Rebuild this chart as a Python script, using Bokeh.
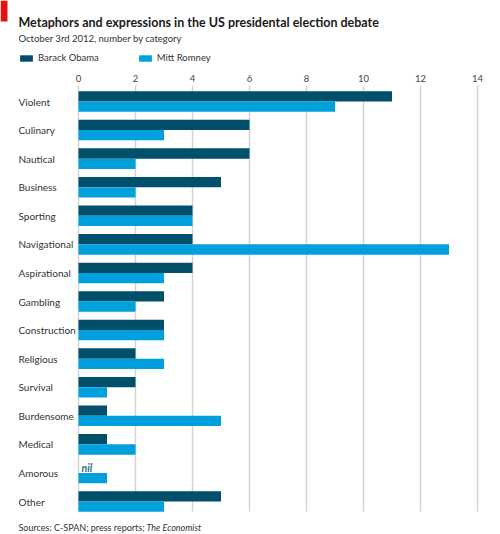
from bokeh.plotting import figure
from bokeh.models import (ColumnDataSource, Range1d, Label, Legend, LegendItem, BoxAnnotation)
from bokeh.transform import dodge
from bokeh.embed import file_html
from bokeh.resources import INLINE
from bokeh.core.properties import value

# Metáforas usadas no debate presidencial (EUA, 3/10/2012)

categories = ["Violent", "Culinary", "Nautical", "Business", "Sporting", "Navigational",
              "Aspirational", "Gambling", "Construction", "Religious", "Survival",
              "Burdensome", "Medical", "Amorous", "Other"]
obama = [11, 6, 6, 5, 4, 4, 4, 3, 3, 2, 2, 1, 1, 0, 5]
romney = [9, 3, 2, 2, 4, 13, 3, 2, 3, 3, 1, 5, 2, 1, 3]
x_ticks = [0, 2, 4, 6, 8, 10, 12, 14]

OBAMA = "#004f6b"
ROMNEY = "#00a0dc"
FONT = "Lato"
TXT = "#333333"

W, H = 500, 534
# geometria em pixels: x=0 em 78px, x=14 em 477px; 1a categoria em 101px, ultima em 501px
X0, XPX = 78, 399 / 14
Y0, YPX = 101, 400 / 14
TOP, BOTTOM = -0.56, len(categories) - 1 + 0.35   # faixa das barras/grade

source = ColumnDataSource(dict(cat=categories, pos=list(range(len(categories))),
                               obama=obama, romney=romney))

p = figure(width=W, height=H, output_backend="svg", toolbar_location=None,
           x_range=Range1d(-X0 / XPX, (W - X0) / XPX),
           y_range=Range1d((H - Y0) / YPX, -Y0 / YPX),
           x_axis_location=None, y_axis_location=None,
           min_border=0)
p.outline_line_color = None
p.grid.visible = False

# grade vertical
p.segment(x0=x_ticks, x1=x_ticks, y0=[TOP] * len(x_ticks), y1=[BOTTOM] * len(x_ticks),
          line_color="#d4d4d4", line_width=1.5, level="underlay")

# rótulos do eixo (em cima)
p.text(x=x_ticks, y=[TOP] * len(x_ticks), text=[str(t) for t in x_ticks], y_offset=-4,
       text_font=value(FONT), text_font_size="9.5px", text_color="#444444",
       text_align="center", text_baseline="bottom")

r_ob = p.hbar(y=dodge("pos", -0.18), right="obama", left=0, height=0.36,
              source=source, fill_color=OBAMA, line_color=None)
r_ro = p.hbar(y=dodge("pos", 0.18), right="romney", left=0, height=0.36,
              source=source, fill_color=ROMNEY, line_color=None)

# "nil" onde Obama tem zero
nil_src = ColumnDataSource(dict(
    pos=[i for i, v in enumerate(obama) if v == 0],
    x=[0 for v in obama if v == 0],
    t=["nil" for v in obama if v == 0]))
p.text(x="x", y=dodge("pos", -0.18), text="t", source=nil_src, x_offset=3,
       text_font=value(FONT), text_font_size="10.5px", text_font_style="bold italic",
       text_color="#2a6f8a", text_baseline="middle")

# rótulos das categorias
p.text(x=0, y="pos", text="cat", source=source, x_offset=-60,
       text_font=value(FONT), text_font_size="10px", text_color=TXT,
       text_baseline="middle", text_align="left")


def lab(text, fx, fy, size, style="normal", color=TXT):
    p.add_layout(Label(x=fx, y=H - fy, x_units="screen", y_units="screen", text=text,
                       text_font=FONT, text_font_size=size, text_font_style=style,
                       text_color=color, text_baseline="alphabetic"))


lab("Metaphors and expressions in the US presidental election debate", 18, 22, "12.5px",
    "bold", "#1a1a1a")
lab("October 3rd 2012, number by category", 18, 38, "9.5px")
lab("Sources: C-SPAN; press reports;", 18, 527, "9px")
lab("The Economist", 146, 527, "9px", "italic")

p.add_layout(BoxAnnotation(left=0, right=7, bottom=H - 21, top=H,
                           left_units="screen", right_units="screen",
                           bottom_units="screen", top_units="screen",
                           fill_color="#e3120b", fill_alpha=1, line_color=None))

legend = Legend(items=[LegendItem(label="Barack Obama", renderers=[r_ob]),
                       LegendItem(label="Mitt Romney", renderers=[r_ro])],
                orientation="horizontal", location=(18, H - 63),
                glyph_width=16, glyph_height=8, label_standoff=4, spacing=38,
                padding=0, margin=0, border_line_color=None, background_fill_alpha=0,
                label_text_font=FONT, label_text_font_size="9.5px",
                label_text_color=TXT, label_height=10)
p.add_layout(legend)

open("out.html", "w").write(file_html(p, INLINE))
